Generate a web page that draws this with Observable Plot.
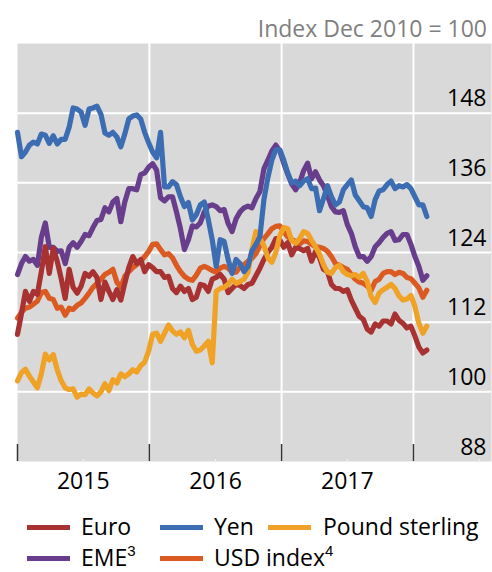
<!DOCTYPE html>
<html>
<head>
<meta charset="utf-8">
<script src="https://cdn.jsdelivr.net/npm/d3@7"></script>
<script src="https://cdn.jsdelivr.net/npm/@observablehq/plot@0.6"></script>
<style>
  body { margin: 0; background: #fff; font-family: "Open Sans", sans-serif; }
  #wrap { position: relative; width: 492px; height: 572px; overflow: hidden; }
  #title { position: absolute; right: 5px; top: 12px; font-size: 23px; color: #7f7f7f; white-space: nowrap; line-height: normal; }
  #chart { position: absolute; left: 0; top: 43px; }
  .sw { position: absolute; height: 5px; width: 43px; }
  .lt { position: absolute; font-size: 23px; color: #000; white-space: nowrap; line-height: 24px; }
  .lt sup { font-family: "Liberation Sans", sans-serif; font-size: 15px; line-height: 15px; vertical-align: 9.5px; }
</style>
</head>
<body>
<div id="wrap">
  <div id="title">Index Dec 2010 = 100</div>
  <div id="chart"></div>
</div>
<script>
// ---- data, one value every 11 days from 1 Jan 2015 ----
const startDate = "2015-01-01";
const stepDays = 11;

const euro = [109.9,113.5,117.3,115.6,117.3,116.8,120.7,125.0,120.4,124.7,
  122.5,119.5,116.1,121.1,118.0,117.0,118.2,120.4,119.9,120.7,
  119.7,115.9,118.9,117.3,115.9,117.6,115.8,118.7,121.4,123.3,
  122.1,122.8,120.7,121.9,121.4,120.7,120.7,119.7,119.9,117.8,
  117.1,118.2,117.3,117.8,115.9,116.3,118.5,118.3,117.3,119.4,
  119.7,120.2,119.4,117.1,117.8,118.5,118.3,117.8,118.5,118.7,
  120.0,121.3,122.8,124.0,124.9,126.4,126.2,124.9,125.7,123.6,
  124.9,124.7,124.3,124.7,122.5,124.2,123.1,121.1,120.7,118.5,
  117.8,117.8,117.3,117.6,115.8,114.4,113.0,112.5,110.8,110.3,
  111.7,111.3,112.2,112.2,111.7,113.4,112.3,111.8,111.0,111.3,
  109.6,107.7,106.7,107.2];

const yen = [144.7,140.5,141.3,142.5,143.0,142.7,144.4,144.2,142.8,144.1,
  142.7,143.5,143.5,145.6,148.9,148.7,148.2,145.9,148.7,148.9,
  149.2,147.8,144.6,144.2,144.7,143.9,142.2,144.4,147.0,147.5,
  147.7,147.0,144.7,142.9,141.3,140.3,144.7,135.3,135.3,136.2,
  135.7,133.6,131.9,132.6,129.6,130.5,132.2,132.7,129.7,126.2,
  121.6,126.2,125.9,122.8,120.4,122.8,122.1,120.7,121.6,124.3,
  125.4,126.7,133.1,136.9,139.9,141.7,141.7,139.9,137.7,136.0,
  136.3,135.5,136.3,136.7,135.0,135.1,131.2,133.3,135.5,133.6,
  132.2,132.7,134.8,135.7,136.5,133.9,132.9,131.9,131.7,130.2,
  133.1,134.6,134.8,135.7,136.3,135.0,135.5,135.3,135.7,135.0,
  133.6,132.2,132.2,130.2];

const pound = [101.9,103.3,103.9,102.7,101.7,100.7,103.1,106.5,105.5,106.4,
  103.8,101.9,100.7,100.4,100.5,99.1,99.6,99.5,100.5,99.8,
  99.3,100.0,101.4,100.2,102.1,101.5,103.1,102.6,103.1,103.8,
  103.4,104.5,105.1,107.0,109.9,110.1,108.7,110.1,111.5,110.5,
  109.9,110.3,109.3,110.6,108.2,107.0,107.2,107.9,108.7,105.0,
  117.3,117.8,118.0,118.5,119.4,118.7,119.0,119.4,120.6,124.5,
  127.6,126.4,125.2,123.1,122.3,124.0,126.9,128.3,128.1,126.1,
  125.6,126.4,127.6,127.3,126.1,125.0,123.7,121.9,120.6,120.4,
  121.4,121.8,120.7,120.2,120.0,120.2,119.7,120.4,119.0,116.4,
  115.4,117.0,117.6,118.0,118.5,117.8,116.5,115.8,116.0,116.6,
  114.7,111.8,110.1,111.3];

const eme = [120.2,122.1,123.3,122.5,122.8,121.8,126.6,129.1,124.9,124.9,
  124.2,124.3,122.1,124.9,125.7,124.9,125.9,127.1,126.9,128.3,
  129.5,129.7,131.7,131.0,132.7,133.3,129.3,132.7,135.0,135.0,
  134.8,137.4,137.7,138.7,139.3,138.2,133.4,132.9,133.6,133.6,
  131.0,128.1,124.5,126.2,128.6,128.4,129.1,131.0,132.0,132.2,
  131.9,131.2,131.4,129.0,127.6,129.8,131.0,131.7,132.0,131.7,
  133.3,134.5,138.4,139.9,141.5,142.5,141.5,139.4,137.5,135.8,
  134.8,136.0,138.1,139.4,136.7,137.9,136.5,135.5,133.8,131.9,
  131.0,130.9,131.2,128.8,127.3,125.0,123.3,123.3,122.5,123.3,
  125.0,125.7,126.6,127.3,127.6,126.1,126.2,127.1,127.1,125.4,
  123.3,121.6,119.2,120.0];

const usd = [112.7,113.7,114.4,114.6,115.1,115.6,117.1,117.3,116.1,115.9,
  114.4,114.6,113.2,114.4,114.2,114.9,115.3,116.1,117.0,118.0,
  118.7,119.4,120.2,120.6,121.1,118.9,118.0,119.9,120.7,121.4,
  121.9,122.5,123.3,124.2,125.4,125.5,124.5,123.6,123.8,123.1,
  121.8,120.7,119.9,119.4,119.2,120.1,121.3,121.6,121.3,120.9,
  120.6,121.3,121.6,121.3,120.6,120.6,121.6,121.9,122.5,123.0,
  123.8,125.2,126.4,127.2,128.1,128.5,128.6,127.6,126.7,126.2,
  125.9,125.5,126.0,125.9,125.4,125.0,124.9,124.7,124.2,123.3,
  122.1,121.8,121.4,121.1,120.2,119.4,118.9,118.7,118.2,117.5,
  119.0,119.4,120.4,120.7,120.7,120.2,120.6,120.4,119.7,119.5,
  118.7,117.9,116.3,117.5];

const seriesNames = ["Euro", "Yen", "Pound sterling", "EME", "USD index"];
const seriesSup = ["", "", "", "3", "4"];
const seriesColors = ["#a83232", "#3c6db3", "#efa226", "#683d8b", "#db5a22"];
const seriesValues = [euro, yen, pound, eme, usd];
const drawOrder = ["USD index", "EME", "Euro", "Pound sterling", "Yen"];

const yTickValues = [88, 100, 112, 124, 136, 148];
const yDomain = [88, 160];
const xDomain = ["2015-01-01", "2018-08-05"];
const yearStarts = ["2015-01-01", "2016-01-01", "2017-01-01", "2018-01-01"];
const midYears = ["2015-07-02", "2016-07-02", "2017-07-02", "2018-07-02"];
const yearLabels = ["2015-07-02", "2016-07-02", "2017-07-02"];

// ---- build table ----
const start = new Date(startDate);
const rows = [];
for (const name of drawOrder) {
  const k = seriesNames.indexOf(name);
  seriesValues[k].forEach((v, i) => {
    rows.push({date: d3.utcDay.offset(start, i * stepDays), value: v, series: name});
  });
}
const toDate = (s) => new Date(s);

const chart = Plot.plot({
  width: 492,
  height: 457,
  marginTop: 0,
  marginBottom: 39,
  marginLeft: 17,
  marginRight: 1,
  style: {fontFamily: "'Open Sans', sans-serif", fontSize: "23px", color: "#000", background: "transparent"},
  x: {type: "utc", domain: xDomain.map(toDate)},
  y: {domain: yDomain, axis: null},
  color: {domain: seriesNames, range: seriesColors},
  marks: [
    Plot.frame({fill: "#d9d9d9", stroke: "none"}),
    Plot.ruleY(yTickValues.filter(d => d > yDomain[0]), {stroke: "white", strokeWidth: 2}),
    Plot.ruleX(yearStarts.slice(1).map(toDate), {stroke: "white", strokeWidth: 2}),
    Plot.line(rows, {x: "date", y: "value", z: "series", stroke: "series", strokeWidth: 5.2,
      strokeLinejoin: "round", strokeLinecap: "round"}),
    Plot.tickX(yearStarts.map(toDate), {x: d => d, stroke: "#333", strokeWidth: 1.5, insetTop: 401}),
    Plot.tickX(midYears.map(toDate), {x: d => d, stroke: "#f2f2f2", strokeWidth: 1, insetTop: 416, insetBottom: -2}),
    Plot.text(yTickValues, {y: d => d, text: d => String(d), frameAnchor: "right", textAnchor: "end",
      lineAnchor: "bottom", dx: -5, dy: -7, fill: "#000", fontSize: 23}),
    Plot.axisX(yearLabels.map(toDate), {tickSize: 0, tickPadding: 11, tickFormat: d3.utcFormat("%Y"),
      fontSize: 23, fill: "#000"})
  ]
});
document.getElementById("chart").appendChild(chart);

// ---- legend (HTML below the SVG) ----
const legendSwatchLeft = [27, 160, 268, 27, 160];
const legendTextLeft = [81, 214, 323, 81, 214];
const legendRow = [0, 0, 0, 1, 1];
const rowSwatchTop = [524.5, 556];
const rowTextBottom = [34, 4];
const wrap = document.getElementById("wrap");
seriesNames.forEach((name, i) => {
  const sw = document.createElement("div");
  sw.className = "sw";
  sw.style.left = legendSwatchLeft[i] + "px";
  sw.style.top = rowSwatchTop[legendRow[i]] + "px";
  sw.style.background = seriesColors[i];
  wrap.appendChild(sw);
  const t = document.createElement("div");
  t.className = "lt";
  t.style.left = legendTextLeft[i] + "px";
  t.style.bottom = rowTextBottom[legendRow[i]] + "px";
  t.textContent = name;
  if (seriesSup[i]) {
    const s = document.createElement("sup");
    s.textContent = seriesSup[i];
    t.appendChild(s);
  }
  wrap.appendChild(t);
});
</script>
</body>
</html>
